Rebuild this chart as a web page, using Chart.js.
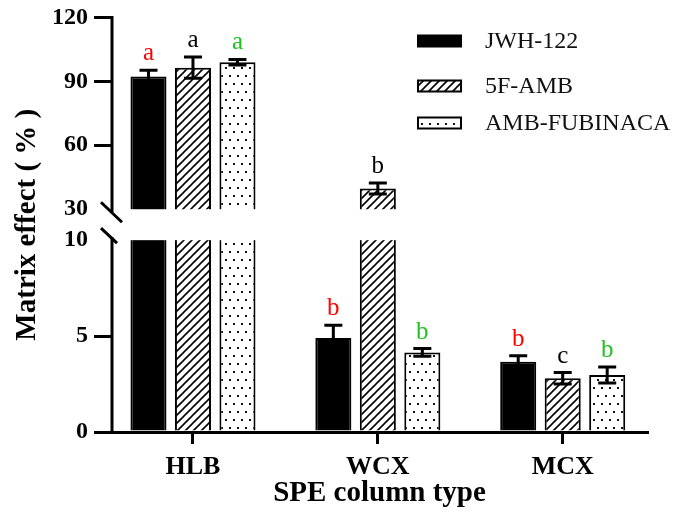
<!DOCTYPE html>
<html>
<head>
<meta charset="utf-8">
<script src="https://cdn.jsdelivr.net/npm/chart.js@4.4.1/dist/chart.umd.min.js"></script>
<style>
  html, body { margin: 0; padding: 0; background: #fff; }
  #wrap { width: 687px; height: 522px; }
</style>
</head>
<body>
<div id="wrap"><canvas id="myChart" width="687" height="522"></canvas></div>
<script>
const columnTypes = ['HLB', 'WCX', 'MCX'];
const seriesNames = ['JWH-122', '5F-AMB', 'AMB-FUBINACA'];

const jwhValues = [92.3, 4.9, 3.66];
const jwhErrors = [2.9, 0.66, 0.31];
const fambValues = [96.4, 39.7, 2.8];
const fambErrors = [5.0, 2.6, 0.3];
const fubValues = [99.0, 4.15, 2.97];
const fubErrors = [1.3, 0.2, 0.42];

const jwhLetters = ['a', 'b', 'b'];
const fambLetters = ['a', 'b', 'c'];
const fubLetters = ['a', 'b', 'b'];

const yTicks = [0, 5, 10, 30, 60, 90, 120];

const SERIF = '"Liberation Serif", "Times New Roman", serif';

// y axis is broken: 0-10 in the lower panel, 30-120 in the upper one
const lowTop = 10, highBottom = 30, yMax = 120;
const lowFrac = 0.4627, highFrac = 0.5373;

function toFrac(v) {
  if (v <= lowTop) return v / lowTop * lowFrac;
  if (v <= highBottom) return lowFrac + (v - lowTop) / (highBottom - lowTop) * (highFrac - lowFrac);
  return highFrac + (v - highBottom) / (yMax - highBottom) * (1 - highFrac);
}
function fromFrac(f) {
  if (f <= lowFrac) return f / lowFrac * lowTop;
  if (f <= highFrac) return lowTop + (f - lowFrac) / (highFrac - lowFrac) * (highBottom - lowTop);
  return highBottom + (f - highFrac) / (1 - highFrac) * (yMax - highBottom);
}

class BrokenScale extends Chart.LinearScale {
  getPixelForValue(v) { return this.getPixelForDecimal(toFrac(v)); }
  getValueForPixel(p) { return fromFrac(this.getDecimalForPixel(p)); }
}
BrokenScale.id = 'broken';
Chart.register(BrokenScale);

function hatchPattern() {
  const s = 8;
  const c = document.createElement('canvas');
  c.width = s; c.height = s;
  const g = c.getContext('2d');
  g.fillStyle = '#fff';
  g.fillRect(0, 0, s, s);
  g.strokeStyle = '#000';
  g.lineWidth = 1.6;
  g.beginPath();
  g.moveTo(0, s); g.lineTo(s, 0);
  g.moveTo(-1, 1); g.lineTo(1, -1);
  g.moveTo(s - 1, s + 1); g.lineTo(s + 1, s - 1);
  g.stroke();
  return g.createPattern(c, 'repeat');
}

function dotPattern() {
  const c = document.createElement('canvas');
  c.width = 8; c.height = 16;
  const g = c.getContext('2d');
  g.fillStyle = '#fff';
  g.fillRect(0, 0, 8, 16);
  g.fillStyle = '#111';
  g.fillRect(1, 3, 2, 2);
  g.fillRect(5, 11, 2, 2);
  return g.createPattern(c, 'repeat');
}

function toPoints(values) {
  return values.map((v, i) => ({ x: i, y: v }));
}

const extrasPlugin = {
  id: 'extras',
  afterDatasetsDraw(chart) {
    const ctx = chart.ctx;
    const y = chart.scales.y;
    const area = chart.chartArea;
    const hi = y.getPixelForValue(highBottom);
    const lo = y.getPixelForValue(lowTop);
    const ax = area.left;

    ctx.save();
    // blank out the gap between the two panels
    ctx.fillStyle = '#fff';
    ctx.fillRect(ax + 2, hi, area.right - ax, lo - hi);

    // broken y axis with slashes
    ctx.strokeStyle = '#000';
    ctx.lineWidth = 3;
    ctx.lineCap = 'butt';
    ctx.beginPath();
    ctx.moveTo(ax, y.getPixelForValue(yMax) - 1.5);
    ctx.lineTo(ax, hi + 3);
    ctx.moveTo(ax, lo - 3);
    ctx.lineTo(ax, y.getPixelForValue(0));
    ctx.stroke();
    ctx.beginPath();
    ctx.moveTo(ax - 11, hi - 7);
    ctx.lineTo(ax + 10, hi + 13);
    ctx.moveTo(ax - 11, lo - 12);
    ctx.lineTo(ax + 5, lo + 3);
    ctx.stroke();

    // error bars and significance letters
    chart.data.datasets.forEach((ds, di) => {
      const meta = chart.getDatasetMeta(di);
      meta.data.forEach((bar, i) => {
        const v = ds.data[i].y, e = ds.errors[i];
        const x = bar.x;
        const top = y.getPixelForValue(v + e);
        const bot = y.getPixelForValue(v - e);
        const cap = bar.width / 4;
        ctx.strokeStyle = '#000';
        ctx.lineWidth = 3;
        ctx.beginPath();
        ctx.moveTo(x, top); ctx.lineTo(x, bot);
        ctx.moveTo(x - cap, top); ctx.lineTo(x + cap, top);
        ctx.moveTo(x - cap, bot); ctx.lineTo(x + cap, bot);
        ctx.stroke();

        ctx.fillStyle = ds.letterColor;
        ctx.font = '25px ' + SERIF;
        ctx.textAlign = 'center';
        ctx.textBaseline = 'alphabetic';
        ctx.fillText(ds.letters[i], x, top - 10);
      });
    });

    // legend
    const legendY = [41, 86, 123];
    chart.data.datasets.forEach((ds, di) => {
      const cy = legendY[di];
      ctx.fillStyle = ds.backgroundColor;
      ctx.fillRect(418, cy - 5.5, 43, 11);
      ctx.strokeStyle = '#000';
      ctx.lineWidth = 2;
      ctx.strokeRect(418, cy - 5.5, 43, 11);
      ctx.fillStyle = '#111';
      ctx.font = '24px ' + SERIF;
      ctx.textAlign = 'left';
      ctx.textBaseline = 'middle';
      ctx.fillText(ds.label, 485, cy + 1);
    });
    ctx.restore();
  }
};

const ctx = document.getElementById('myChart').getContext('2d');
const myChart = new Chart(ctx, {
  type: 'bar',
  data: {
    datasets: [{
      label: seriesNames[0],
      data: toPoints(jwhValues),
      errors: jwhErrors,
      letters: jwhLetters,
      letterColor: '#ff0000',
      backgroundColor: '#000',
      borderColor: '#000',
      borderWidth: 2
    }, {
      label: seriesNames[1],
      data: toPoints(fambValues),
      errors: fambErrors,
      letters: fambLetters,
      letterColor: '#000',
      backgroundColor: hatchPattern(),
      borderColor: '#000',
      borderWidth: 2
    }, {
      label: seriesNames[2],
      data: toPoints(fubValues),
      errors: fubErrors,
      letters: fubLetters,
      letterColor: '#1fc21f',
      backgroundColor: dotPattern(),
      borderColor: '#000',
      borderWidth: 2
    }]
  },
  options: {
    responsive: false,
    animation: false,
    devicePixelRatio: 1,
    barPercentage: 0.81,
    categoryPercentage: 0.722,
    layout: { padding: { top: 14, right: 40, left: 0, bottom: 0 } },
    plugins: {
      legend: { display: false },
      tooltip: { enabled: false }
    },
    scales: {
      x: {
        type: 'linear',
        min: -0.438,
        max: 2.456,
        offset: false,
        afterBuildTicks: s => { s.ticks = columnTypes.map((c, i) => ({ value: i })); },
        afterFit: s => { s.height = 90; },
        border: { display: true, width: 3, color: '#000' },
        grid: { offset: false, drawOnChartArea: false, tickLength: 12, lineWidth: 3, color: '#000' },
        ticks: {
          callback: v => columnTypes[v],
          color: '#000',
          font: { family: SERIF, size: 26, weight: 'bold' },
          padding: 8,
          maxRotation: 0,
          autoSkip: false
        },
        title: {
          display: true,
          text: 'SPE column type',
          color: '#000',
          font: { family: SERIF, size: 29, weight: 'bold' },
          padding: { top: 0, bottom: 11 }
        }
      },
      y: {
        type: 'broken',
        min: 0,
        max: yMax,
        afterBuildTicks: s => { s.ticks = yTicks.map(v => ({ value: v })); },
        afterFit: s => { s.width = 112; },
        border: { display: false },
        grid: {
          drawOnChartArea: false,
          tickLength: 18,
          lineWidth: 3,
          color: c => (c.tick && (c.tick.value === lowTop || c.tick.value === highBottom)) ? 'rgba(0,0,0,0)' : '#000'
        },
        ticks: {
          color: '#000',
          font: { family: SERIF, size: 24, weight: 'bold', lineHeight: 0.95 },
          padding: 6,
          autoSkip: false
        },
        title: {
          display: true,
          text: 'Matrix effect ( % )',
          color: '#000',
          font: { family: SERIF, size: 29, weight: 'bold' },
          padding: { top: 10, bottom: 0 }
        }
      }
    }
  },
  plugins: [extrasPlugin]
});
</script>
</body>
</html>
